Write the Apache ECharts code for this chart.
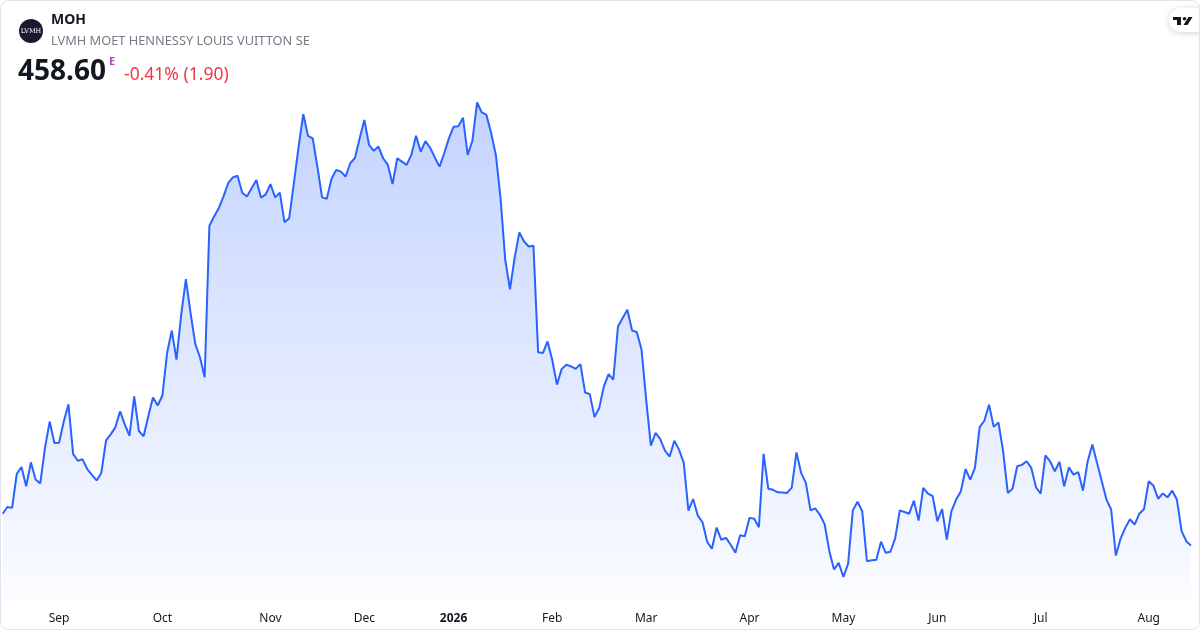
<!DOCTYPE html>
<html>
<head>
<meta charset="utf-8">
<script src="https://cdn.jsdelivr.net/npm/echarts@6/dist/echarts.min.js"></script>
<style>
html,body{margin:0;padding:0;background:#fff;}
#c{width:1200px;height:630px;}
</style>
</head>
<body>
<div id="c"></div>
<script>
// Daily closes (EUR), mid-Aug 2025 to mid-Aug 2026
const prices = [
470.1,472.5,472.2,484.5,486.9,480.0,488.6,482.4,481.0,493.8,
503.3,495.6,495.7,503.3,509.5,491.6,489.2,489.7,486.2,484.1,
482.1,484.8,496.5,498.7,501.3,507.0,502.2,498.2,512.4,499.9,
498.0,505.2,512.0,509.1,512.7,528.0,536.1,525.6,541.8,554.6,
542.4,531.3,526.5,519.3,
573.8,577.2,580.2,584.4,589.2,591.3,591.9,585.8,584.4,587.4,
590.4,584.0,585.2,588.9,584.1,585.8,575.1,576.6,589.2,602.4,
614.1,606.3,605.4,595.2,584.1,583.6,590.7,594.0,593.4,591.6,
596.4,598.3,605.4,612.0,603.0,600.9,602.4,598.2,595.8,588.9,
598.2,597.0,595.8,
599.4,606.3,600.6,604.4,602.0,598.5,595.2,600.0,605.4,609.6,
609.7,612.8,599.4,604.5,618.3,614.7,613.8,607.2,599.4,583.8,
561.6,551.0,562.4,571.5,568.2,566.4,566.7,528.3,528.0,532.2,
525.6,516.6,522.2,523.8,523.2,522.3,524.0,513.8,513.2,
504.9,508.2,516.0,520.4,518.4,537.6,540.6,543.6,536.1,535.6,
529.4,511.2,494.6,499.2,497.0,492.8,490.7,496.4,493.2,488.4,
471.2,475.4,469.4,467.0,459.9,457.5,465.1,460.7,461.4,458.9,
456.0,462.3,462.0,468.6,468.3,465.2,491.7,479.1,478.7,477.8,
477.7,477.6,
479.5,492.2,484.8,481.2,471.3,472.0,469.7,466.3,456.6,450.0,
452.4,447.3,452.1,471.3,474.4,471.0,453.0,453.3,453.5,460.0,
456.0,456.4,461.1,471.3,470.7,470.1,474.8,467.6,479.4,477.3,
476.4,467.4,471.8,460.8,471.0,475.2,478.2,486.2,482.4,486.6,
501.3,503.6,509.4,
501.4,503.0,492.6,477.6,479.1,487.2,487.7,489.0,486.6,479.6,
477.3,491.1,489.0,485.4,488.8,480.0,486.8,484.2,485.1,478.4,
489.0,495.0,488.4,481.8,475.2,471.6,455.0,461.1,465.0,468.1,
466.2,470.1,471.8,481.8,480.2,475.5,477.4,476.0,478.4,475.2,
463.8,460.2,458.6
];
// Month tick labels and the trading-day index they sit on
const tickLabels = ['Sep','Oct','Nov','Dec','2026','Feb','Mar','Apr','May','Jun','Jul','Aug'];
const tickIndex  = [12,34,57,77,96,117,137,159,179,199,221,244];

const ticker = 'MOH';
const company = 'LVMH MOET HENNESSY LOUIS VUITTON SE';
const lastPrice = '458.60';
const change = '-0.41% (1.90)';

const days = prices.map((_, i) => String(i));
const chart = echarts.init(document.getElementById('c'));
const FONT = '"Noto Sans", Roboto, sans-serif';

chart.setOption({
  animation: false,
  backgroundColor: '#ffffff',
  grid: {left: 2.7, right: 9, top: 95, bottom: 30},
  xAxis: {
    type: 'category',
    data: days,
    boundaryGap: false,
    axisLine: {show: false},
    axisTick: {show: false},
    splitLine: {show: false},
    axisLabel: {
      interval: (i) => tickIndex.indexOf(i) >= 0,
      margin: 13,
      fontFamily: FONT,
      fontSize: 12,
      color: '#131722',
      formatter: (v, i) => {
        const k = tickIndex.indexOf(Number(v));
        if (k < 0) return '';
        const t = tickLabels[k];
        return /^\d{4}$/.test(t) ? '{b|' + t + '}' : t;
      },
      rich: {b: {fontWeight: 'bold', fontFamily: FONT, fontSize: 12, color: '#131722'}}
    }
  },
  yAxis: {
    type: 'value',
    min: 439,
    max: 621,
    show: false,
    splitLine: {show: false}
  },
  series: [{
    type: 'line',
    data: prices,
    symbol: 'none',
    smooth: false,
    lineStyle: {color: '#2962ff', width: 2},
    areaStyle: {
      opacity: 1,
      color: new echarts.graphic.LinearGradient(0, 0, 0, 1, [
        {offset: 0, color: 'rgba(41,98,255,0.28)'},
        {offset: 1, color: 'rgba(41,98,255,0.02)'}
      ])
    }
  }],
  graphic: [
    {type: 'rect', shape: {x: 0.5, y: 0.5, width: 1199, height: 629, r: 8},
     style: {fill: 'none', stroke: '#e0e3eb', lineWidth: 1}, z: 100},
    {type: 'circle', shape: {cx: 31, cy: 31, r: 12}, style: {fill: '#1b1a33'}, z: 10},
    {type: 'text', x: 31, y: 31, z: 11,
     style: {text: 'LVMH', fill: '#ffffff', font: '6.5px "DejaVu Serif", serif', textAlign: 'center', textVerticalAlign: 'middle'}},
    {type: 'text', x: 51, y: 20, z: 10,
     style: {text: ticker, fill: '#131722', font: 'bold 14px ' + FONT, textVerticalAlign: 'middle'}},
    {type: 'text', x: 51, y: 41, z: 10,
     style: {text: company, fill: '#787b86', font: '12.8px ' + FONT, textVerticalAlign: 'middle'}},
    {type: 'text', x: 18, y: 72, z: 10,
     style: {text: lastPrice, fill: '#131722', font: 'bold 28px ' + FONT, textVerticalAlign: 'middle'}},
    {type: 'text', x: 109, y: 62, z: 10,
     style: {text: 'E', fill: '#ab47bc', font: 'bold 11px ' + FONT, textVerticalAlign: 'middle'}},
    {type: 'text', x: 124, y: 75, z: 10,
     style: {text: change, fill: '#f23645', font: '17.5px ' + FONT, textVerticalAlign: 'middle'}},
    {type: 'rect', shape: {x: 1169, y: 8, width: 44, height: 24, r: 12}, z: 20,
     style: {fill: '#ffffff', shadowBlur: 6, shadowColor: 'rgba(0,0,0,0.18)', shadowOffsetY: 1}},
    {type: 'rect', shape: {x: 1173, y: 17, width: 8, height: 3}, z: 21, style: {fill: '#131722'}},
    {type: 'rect', shape: {x: 1177, y: 17, width: 4, height: 8}, z: 21, style: {fill: '#131722'}},
    {type: 'circle', shape: {cx: 1184.5, cy: 18.8, r: 1.8}, z: 21, style: {fill: '#131722'}},
    {type: 'polygon', shape: {points: [[1188.5,17],[1192.5,17],[1187.5,25],[1183.5,25]]}, z: 21, style: {fill: '#131722'}}
  ]
});
</script>
</body>
</html>
